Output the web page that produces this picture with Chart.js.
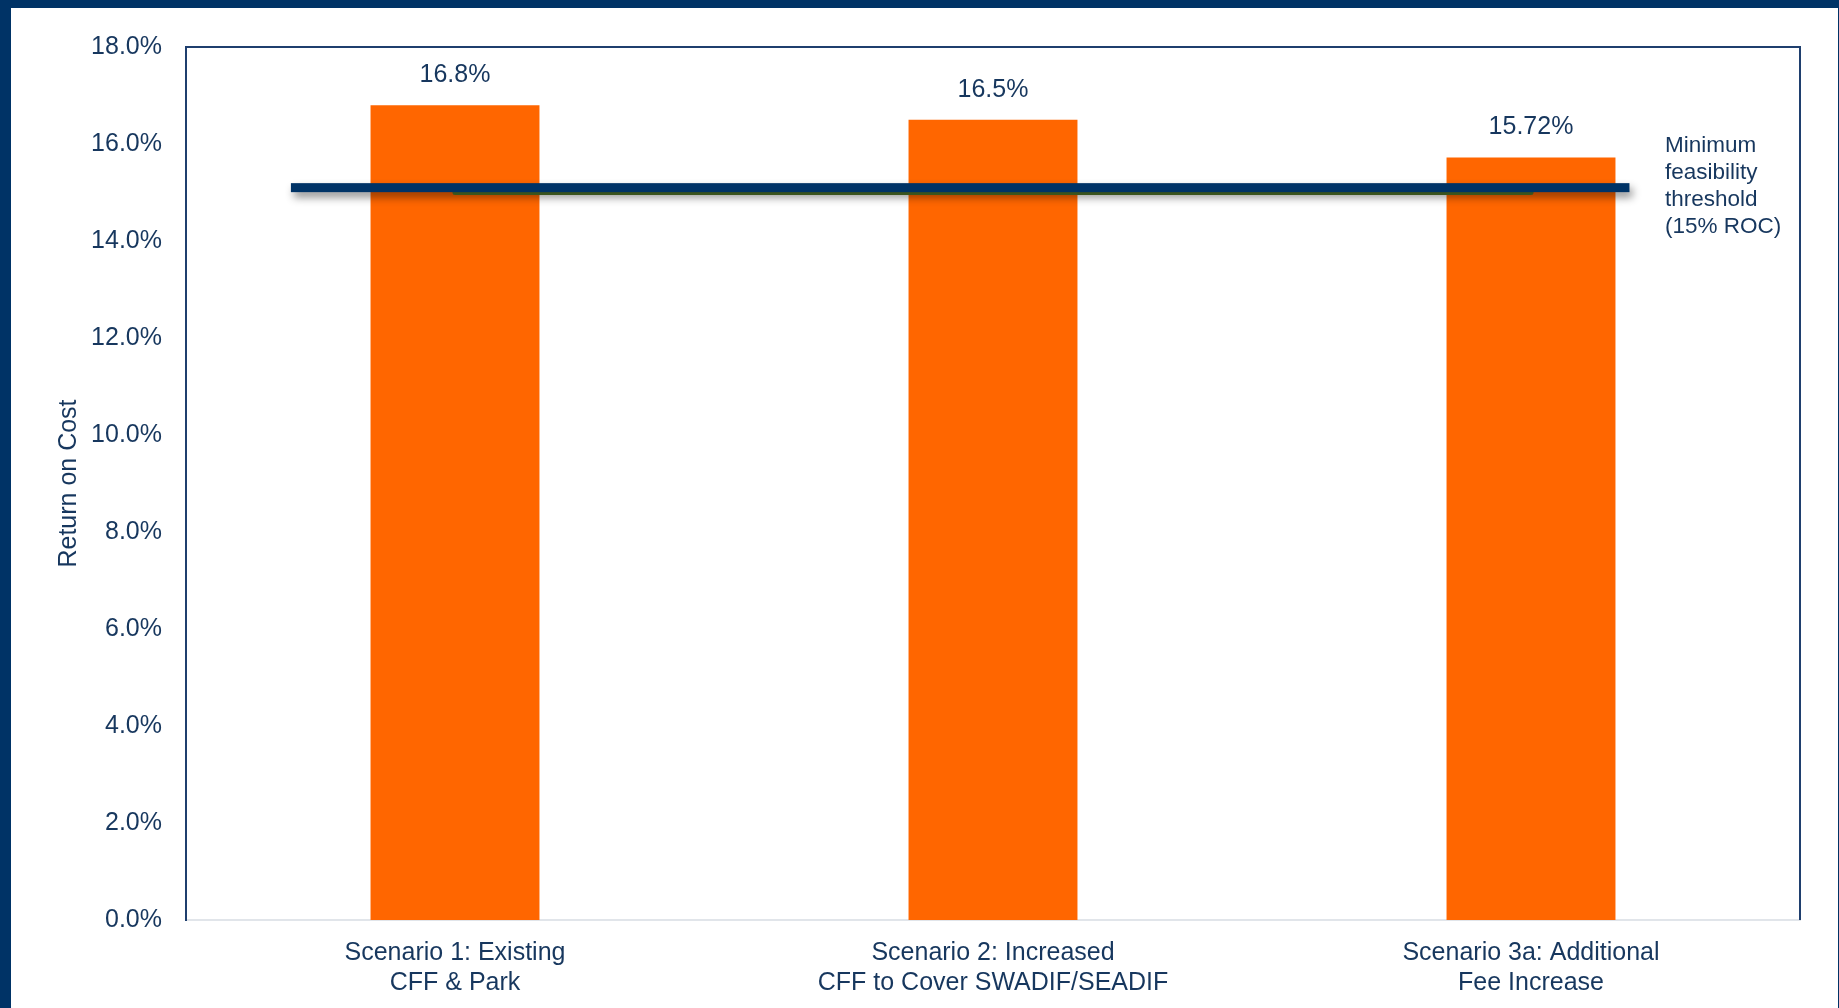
<!DOCTYPE html>
<html>
<head>
<meta charset="utf-8">
<script src="https://cdn.jsdelivr.net/npm/chart.js@4.4.1/dist/chart.umd.min.js"></script>
<style>
  html, body { margin: 0; padding: 0; background: #003366; overflow: hidden; }
  #frame { position: absolute; left: 11px; top: 8px; width: 1827px; height: 1000px; background: #fff; }
</style>
</head>
<body>
<div id="frame"><canvas id="roc"></canvas></div>
<script>
const scenarios = [
  ["Scenario 1: Existing", "CFF & Park"],
  ["Scenario 2: Increased", "CFF to Cover SWADIF/SEADIF"],
  ["Scenario 3a: Additional", "Fee Increase"]
];
const returnOnCost = [16.8, 16.5, 15.72];
const minimumRoc = [15, 15, 15];
const thresholdNote = ["Minimum", "feasibility", "threshold", "(15% ROC)"];

const navy = "#17375e";
const font = "'Liberation Sans', Arial, sans-serif";

// top and right edges of the plot box
const plotFrame = {
  id: "plotFrame",
  afterDraw(chart) {
    const { ctx, chartArea: a } = chart;
    ctx.save();
    ctx.strokeStyle = "#1f3f6e";
    ctx.lineWidth = 2;
    ctx.beginPath();
    ctx.moveTo(a.left, a.top);
    ctx.lineTo(a.right, a.top);
    ctx.lineTo(a.right, a.bottom);
    ctx.stroke();
    ctx.restore();
  }
};

// value labels above each bar
const barLabels = {
  id: "barLabels",
  afterDatasetsDraw(chart) {
    const { ctx } = chart;
    const meta = chart.getDatasetMeta(1);
    ctx.save();
    ctx.font = "25px " + font;
    ctx.fillStyle = navy;
    ctx.textAlign = "center";
    ctx.textBaseline = "middle";
    meta.data.forEach((bar, i) => {
      ctx.fillText(returnOnCost[i] + "%", bar.x, bar.y - 30);
    });
    ctx.restore();
  }
};

// thick threshold bar with drop shadow, plus its note on the right
const thresholdBar = {
  id: "thresholdBar",
  afterDatasetsDraw(chart, args, opts) {
    const { ctx, scales: { x, y } } = chart;
    const yPx = y.getPixelForValue(opts.value);
    const x0 = x.getPixelForValue(opts.from);
    const x1 = x.getPixelForValue(opts.to);
    ctx.save();
    ctx.shadowColor = "rgba(0,0,0,0.45)";
    ctx.shadowBlur = 9;
    ctx.shadowOffsetX = 3;
    ctx.shadowOffsetY = 5;
    ctx.fillStyle = "#003366";
    ctx.fillRect(x0, yPx - 4.5, x1 - x0, 9);
    ctx.restore();

    ctx.save();
    ctx.font = "22.5px " + font;
    ctx.fillStyle = navy;
    ctx.textAlign = "left";
    ctx.textBaseline = "middle";
    const tx = x.getPixelForValue(opts.noteAt);
    const lh = 27;
    const startY = yPx - 1.5 - lh * (thresholdNote.length - 1) / 2;
    thresholdNote.forEach((t, i) => ctx.fillText(t, tx, startY + i * lh));
    ctx.restore();
  }
};

new Chart(document.getElementById("roc"), {
  data: {
    labels: scenarios,
    datasets: [
      {
        type: "line",
        data: minimumRoc,
        borderColor: "#557a2c",
        borderWidth: 5,
        borderCapStyle: "round",
        pointRadius: 0,
        order: 0
      },
      {
        type: "bar",
        data: returnOnCost,
        backgroundColor: "#ff6600",
        categoryPercentage: 1,
        barPercentage: 0.314,
        order: 1
      }
    ]
  },
  options: {
    responsive: true,
    maintainAspectRatio: false,
    animation: false,
    layout: { padding: { top: 37, right: 38, left: 0, bottom: 0 } },
    plugins: {
      legend: { display: false },
      tooltip: { enabled: false },
      thresholdBar: { value: 15.1, from: -0.305, to: 2.183, noteAt: 2.249 }
    },
    scales: {
      x: {
        offset: true,
        grid: { display: false, drawTicks: false },
        border: { display: true, color: "#e1e5ea", width: 2 },
        ticks: {
          color: navy,
          padding: 18,
          maxRotation: 0,
          font: { family: font, size: 25, lineHeight: 1.2 }
        },
        afterFit(scale) { scale.height = 88; }
      },
      y: {
        min: 0,
        max: 18,
        grid: { display: false, drawTicks: false },
        border: { display: true, color: "#1f3f6e", width: 2 },
        ticks: {
          stepSize: 2,
          color: navy,
          padding: 24,
          font: { family: font, size: 25 },
          callback: (v) => v.toFixed(1) + "%"
        },
        title: {
          display: true,
          text: "Return on Cost",
          color: navy,
          padding: { top: 43, bottom: 0 },
          font: { family: font, size: 25 }
        },
        afterFit(scale) { scale.width = 175; }
      }
    }
  },
  plugins: [plotFrame, barLabels, thresholdBar]
});
</script>
</body>
</html>
